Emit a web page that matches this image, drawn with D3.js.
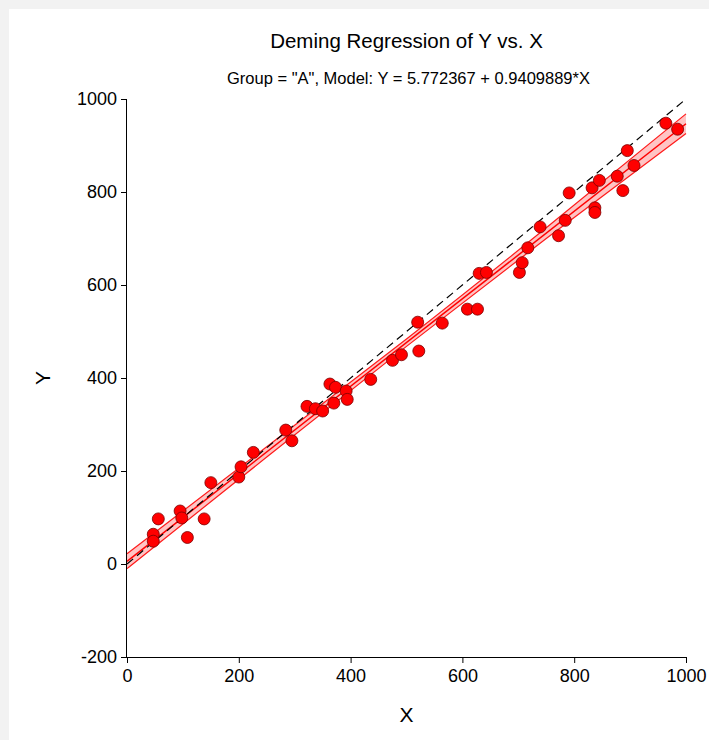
<!DOCTYPE html>
<html>
<head>
<meta charset="utf-8">
<script src="https://cdn.jsdelivr.net/npm/d3@7"></script>
<style>
  body { margin: 0; background: #f2f2f2; }
  text { font-family: "Liberation Sans", Arial, sans-serif; fill: #000; }
</style>
</head>
<body>
<div id="chart"></div>
<script>
// observed points (X, Y)
var xs = [47, 47, 56, 95, 98, 108, 138, 150, 200, 204, 226,
  284, 295, 322, 337, 350, 370, 363, 373, 392, 394, 436, 475, 491, 522,
  520, 564, 609, 627, 630, 643, 702, 707, 717,
  739, 784, 772, 791, 832, 845, 837, 837, 877, 887, 907,
  895, 964, 985]
var ys = [64, 49, 97, 114, 99, 57, 97, 175, 187, 209, 240,
  288, 265, 339, 334, 329, 346, 387, 380, 372, 354, 397, 438, 450, 458,
  520, 518, 548, 548, 625, 627, 627, 648, 680,
  725, 739, 706, 798, 809, 825, 766, 756, 834, 803, 857,
  889, 948, 935]

// fitted model from subtitle
var intercept = 5.772367
var slope = 0.9409889

// confidence band
var bandX = [0, 250, 500, 750, 1000]
var bandLower = [-10, 230, 468, 700, 926]
var bandUpper = [22, 252, 484, 723, 968]

var xTicks = [0, 200, 400, 600, 800, 1000]
var yTicks = [-200, 0, 200, 400, 600, 800, 1000]

var width = 709
var height = 740
var margin = { top: 99, left: 127, right: 23, bottom: 83 }

var svg = d3.select('#chart')
  .append('svg')
  .attr('width', width)
  .attr('height', height)

svg.append('rect')
  .attr('x', 9).attr('y', 9)
  .attr('width', width - 9).attr('height', height - 9)
  .attr('fill', 'white')

var x = d3.scaleLinear().domain([0, 1000]).range([margin.left, width - margin.right])
var y = d3.scaleLinear().domain([-200, 1000]).range([height - margin.bottom, margin.top])

var plot = svg.append('g')

// band
var band = bandX.map(function (d, i) {
  return { x: d, lo: bandLower[i], hi: bandUpper[i] }
})

plot.append('path')
  .datum(band)
  .attr('fill', '#ffc4c4')
  .attr('d', d3.area()
    .curve(d3.curveNatural)
    .x(function (d) { return x(d.x) })
    .y0(function (d) { return y(d.lo) })
    .y1(function (d) { return y(d.hi) }))

var edge = function (key) {
  return d3.line()
    .curve(d3.curveNatural)
    .x(function (d) { return x(d.x) })
    .y(function (d) { return y(d[key]) })
}

plot.append('path').datum(band)
  .attr('fill', 'none').attr('stroke', '#ff1a1a').attr('stroke-width', 1.2)
  .attr('d', edge('lo'))
plot.append('path').datum(band)
  .attr('fill', 'none').attr('stroke', '#ff1a1a').attr('stroke-width', 1.2)
  .attr('d', edge('hi'))

// fitted line
plot.append('line')
  .attr('x1', x(0)).attr('y1', y(intercept))
  .attr('x2', x(1000)).attr('y2', y(intercept + slope * 1000))
  .attr('stroke', '#ff0000')
  .attr('stroke-width', 1.5)

// identity line
plot.append('line')
  .attr('x1', x(0)).attr('y1', y(0))
  .attr('x2', x(1000)).attr('y2', y(1000))
  .attr('stroke', '#000')
  .attr('stroke-width', 1.2)
  .attr('stroke-dasharray', '8,5')

// points
plot.selectAll('circle')
  .data(xs)
  .enter()
  .append('circle')
  .attr('cx', function (d) { return x(d) })
  .attr('cy', function (d, i) { return y(ys[i]) })
  .attr('r', 6)
  .attr('fill', '#ff0000')
  .attr('stroke', '#7a0000')
  .attr('stroke-width', 0.8)

// axes
var fmt = function (d) { return String(d) }
var xAxis = svg.append('g')
  .attr('transform', 'translate(0,' + (height - margin.bottom) + ')')
  .call(d3.axisBottom(x).tickValues(xTicks).tickSize(6).tickPadding(6).tickFormat(fmt))
var yAxis = svg.append('g')
  .attr('transform', 'translate(' + margin.left + ',0)')
  .call(d3.axisLeft(y).tickValues(yTicks).tickSize(6).tickPadding(4).tickFormat(fmt))

svg.selectAll('.domain').attr('stroke', '#000').attr('d', null)
xAxis.select('.domain').attr('d', 'M' + x(0) + ',0.5H' + x(1000))
yAxis.select('.domain').attr('d', 'M-0.5,' + y(-200) + 'V' + y(1000))
svg.selectAll('.tick line').attr('stroke', '#000')
svg.selectAll('.tick text')
  .style('font-family', '"Liberation Sans", Arial, sans-serif')
  .style('font-size', '18px')
  .attr('fill', '#000')

// titles
var cx = (x(0) + x(1000)) / 2
svg.append('text')
  .attr('x', cx).attr('y', 48)
  .attr('text-anchor', 'middle')
  .style('font-size', '20.5px')
  .text('Deming Regression of Y vs. X')

svg.append('text')
  .attr('x', cx + 2).attr('y', 84)
  .attr('text-anchor', 'middle')
  .style('font-size', '16.5px')
  .text('Group = "A", Model: Y = 5.772367 + 0.9409889*X')

svg.append('text')
  .attr('x', cx).attr('y', 722)
  .attr('text-anchor', 'middle')
  .style('font-size', '21px')
  .text('X')

svg.append('text')
  .attr('transform', 'translate(50,' + y(400) + ') rotate(-90)')
  .attr('text-anchor', 'middle')
  .style('font-size', '21px')
  .text('Y')
</script>
</body>
</html>
